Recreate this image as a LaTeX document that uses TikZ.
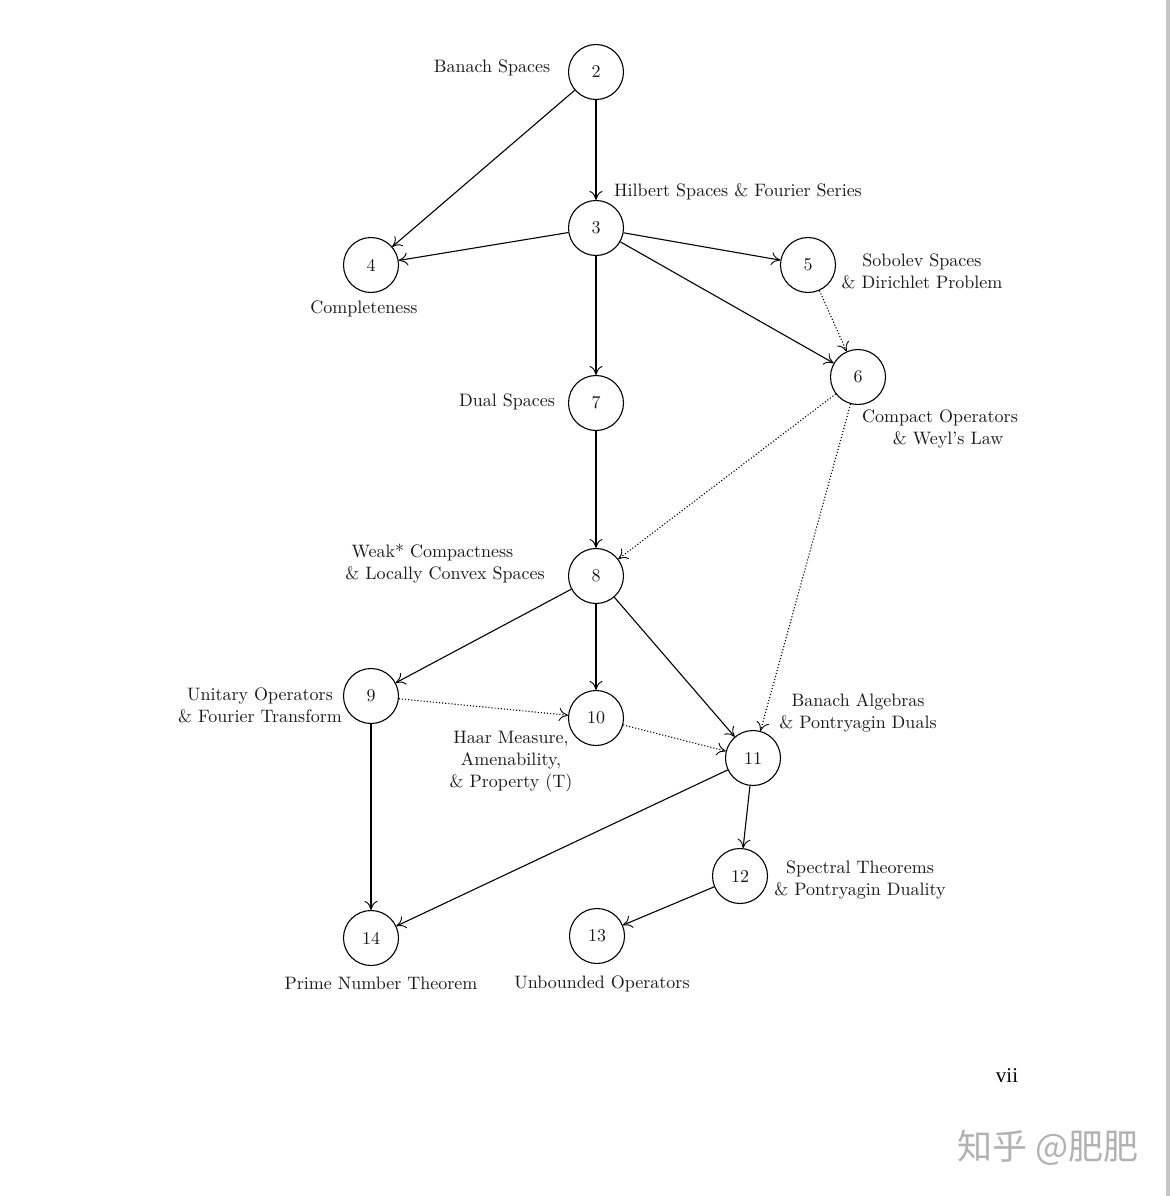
\documentclass[tikz,border=0pt]{standalone}
\usepackage{fontspec}
\setmainfont{lmroman10-regular.otf}
\newfontfamily\cjk{Noto Sans CJK SC}
\newfontfamily\timesfont{Liberation Serif}
\usetikzlibrary{arrows.meta}
\begin{document}
\begin{tikzpicture}[x=1pt,y=-1pt,
  every node/.style={font=\fontsize{18}{22}\selectfont, text=black!90},
  num/.style={circle, draw, line width=1.1pt, minimum size=55pt, inner sep=0pt},
  lbl/.style={align=center, inner sep=0pt},
  edge/.style={line width=1.1pt, -{Computer Modern Rightarrow[length=9pt,width=13pt,line width=0.9pt]}},
  dotedge/.style={edge, dotted}
]
\useasboundingbox (0,0) rectangle (1170,1196);
\fill[white] (0,0) rectangle (1170,1196);
\fill[black!22] (1166,0) rectangle (1170,1196);

% nodes
\node[num] (n2)  at (596,72)  {2};
\node[num] (n3)  at (596,228) {3};
\node[num] (n4)  at (371,265) {4};
\node[num] (n5)  at (808,265) {5};
\node[num] (n6)  at (858,377) {6};
\node[num] (n7)  at (596,403) {7};
\node[num] (n8)  at (596,576) {8};
\node[num] (n9)  at (371,696) {9};
\node[num] (n10) at (596,718) {10};
\node[num] (n11) at (753,758) {11};
\node[num] (n12) at (740,876) {12};
\node[num] (n13) at (597,936) {13};
\node[num] (n14) at (371,938) {14};

% labels
\node[lbl] (l2)  at (492,68)  {Banach Spaces};
\node[lbl] (l3)  at (738,192) {Hilbert Spaces \& Fourier Series};
\node[lbl] (l4)  at (364,309) {Completeness};
\node[lbl] (l5)  at (922,271) {Sobolev Spaces\\\& Dirichlet Problem};
\node[lbl] (l6)  at (940,429) {Compact Operators\\\hspace*{0.9em}\& Weyl's Law};
\node[lbl] (l7)  at (507,402) {Dual Spaces};
\node[lbl] (l8)  at (445,564) {Weak* Compactness\hspace*{1.4em}\\\& Locally Convex Spaces};
\node[lbl] (l9)  at (260,705) {Unitary Operators\\\& Fourier Transform};
\node[lbl] (l10) at (511,762) {Haar Measure,\\Amenability,\\\& Property (T)};
\node[lbl] (l11) at (858,713) {Banach Algebras\\\& Pontryagin Duals};
\node[lbl] (l12) at (860,880) {Spectral Theorems\\\& Pontryagin Duality};
\node[lbl] (l14) at (381,983) {Prime Number Theorem};
\node[lbl] (l13) at (602,984) {Unbounded Operators};

\node[inner sep=0pt, font=\timesfont\fontsize{21}{24}\selectfont, text=black] (pg) at (1007,1076) {vii};
\node[inner sep=0pt, font=\cjk\fontsize{35}{38}\selectfont, text=black!30] (wm) at (1048,1148) {知乎 @肥肥};

% solid edges
\draw[edge] (n2) -- (n3);
\draw[edge] (n2) -- (n4);
\draw[edge] (n3) -- (n4);
\draw[edge] (n3) -- (n5);
\draw[edge] (n3) -- (n6);
\draw[edge] (n3) -- (n7);
\draw[edge] (n7) -- (n8);
\draw[edge] (n8) -- (n9);
\draw[edge] (n8) -- (n10);
\draw[edge] (n8) -- (n11);
\draw[edge] (n9) -- (n14);
\draw[edge] (n11) -- (n12);
\draw[edge] (n11) -- (n14);
\draw[edge] (n12) -- (n13);

% dotted edges
\draw[dotedge] (n5) -- (n6);
\draw[dotedge] (n6) -- (n8);
\draw[dotedge] (n6) -- (n11);
\draw[dotedge] (n9) -- (n10);
\draw[dotedge] (n10) -- (n11);
\end{tikzpicture}
\end{document}
